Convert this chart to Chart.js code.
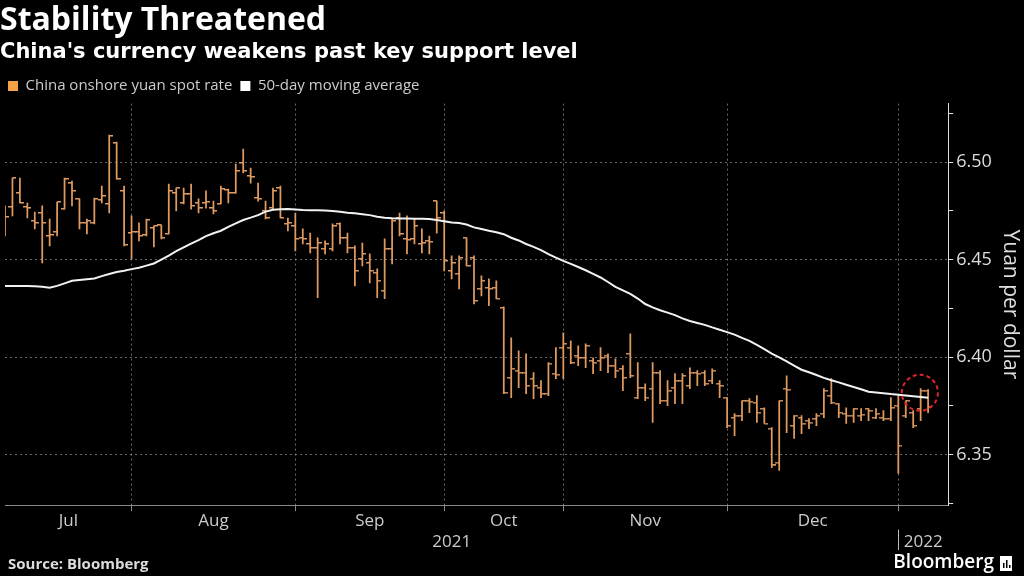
<!DOCTYPE html>
<html>
<head>
<meta charset="utf-8">
<title>Stability Threatened</title>
<script src="https://cdn.jsdelivr.net/npm/chart.js@4.4.1/dist/chart.umd.min.js"></script>
<style>
  html, body { margin: 0; padding: 0; background: #000; }
  canvas { display: block; }
</style>
</head>
<body>
<canvas id="myChart" width="1024" height="576"></canvas>
<script>
const chartTitle = 'Stability Threatened'
const chartSubtitle = "China's currency weakens past key support level"
const spotLabel = 'China onshore yuan spot rate'
const maLabel = '50-day moving average'
const yTitle = 'Yuan per dollar'

// trading days, CNY onshore
const dates = [
  '2021-07-07','2021-07-08','2021-07-09','2021-07-12','2021-07-13','2021-07-14','2021-07-15','2021-07-16','2021-07-19',
  '2021-07-20','2021-07-21','2021-07-22','2021-07-23','2021-07-26','2021-07-27','2021-07-28','2021-07-29','2021-07-30',
  '2021-08-02','2021-08-03','2021-08-04','2021-08-05','2021-08-06','2021-08-09','2021-08-10','2021-08-11','2021-08-12',
  '2021-08-13','2021-08-16','2021-08-17','2021-08-18','2021-08-19','2021-08-20','2021-08-23','2021-08-24','2021-08-25',
  '2021-08-26','2021-08-27','2021-08-30','2021-08-31',
  '2021-09-01','2021-09-02','2021-09-03','2021-09-06','2021-09-07','2021-09-08','2021-09-09','2021-09-10','2021-09-13',
  '2021-09-14','2021-09-15','2021-09-16','2021-09-17','2021-09-22','2021-09-23','2021-09-24','2021-09-27','2021-09-28',
  '2021-09-29','2021-09-30',
  '2021-10-08','2021-10-11','2021-10-12','2021-10-13','2021-10-14','2021-10-15','2021-10-18','2021-10-19','2021-10-20',
  '2021-10-21','2021-10-22','2021-10-25','2021-10-26','2021-10-27','2021-10-28','2021-10-29',
  '2021-11-01','2021-11-02','2021-11-03','2021-11-04','2021-11-05','2021-11-08','2021-11-09','2021-11-10','2021-11-11',
  '2021-11-12','2021-11-15','2021-11-16','2021-11-17','2021-11-18','2021-11-19','2021-11-22','2021-11-23','2021-11-24',
  '2021-11-25','2021-11-26','2021-11-29','2021-11-30',
  '2021-12-01','2021-12-02','2021-12-03','2021-12-06','2021-12-07','2021-12-08','2021-12-09','2021-12-10','2021-12-13',
  '2021-12-14','2021-12-15','2021-12-16','2021-12-17','2021-12-20','2021-12-21','2021-12-22','2021-12-23','2021-12-24',
  '2021-12-27','2021-12-28','2021-12-29','2021-12-30','2021-12-31',
  '2022-01-04','2022-01-05','2022-01-06','2022-01-07'
]

const opens = [
  6.4764, 6.4770, 6.4841, 6.4770, 6.4698, 6.4739, 6.4621, 6.4642, 6.4759, 6.4892,
  6.4811, 6.4688, 6.4688, 6.4805, 6.4785, 6.5097, 6.4852, 6.4636, 6.4642, 6.4626,
  6.4662, 6.4677, 6.4631, 6.4841, 6.4790, 6.4836, 6.4790, 6.4790, 6.4764, 6.4785,
  6.4857, 6.4841, 6.4995, 6.4928, 6.4816, 6.4749, 6.4764, 6.4867, 6.4683, 6.4672,
  6.4611, 6.4580, 6.4560, 6.4555, 6.4555, 6.4683, 6.4611, 6.4560, 6.4503, 6.4483,
  6.4432, 6.4340, 6.4555, 6.4713, 6.4606, 6.4606, 6.4580, 6.4596, 6.4800, 6.4739,
  6.4442, 6.4427, 6.4611, 6.4508, 6.4350, 6.4355, 6.4355, 6.4252, 6.3894, 6.3930,
  6.3920, 6.3889, 6.3843, 6.3812, 6.3915, 6.4048, 6.4048, 6.4007, 6.3996, 6.3981,
  6.3981, 6.4007, 6.3956, 6.3940, 6.4017, 6.3792, 6.3843, 6.3838, 6.3920, 6.3776,
  6.3843, 6.3879, 6.3853, 6.3920, 6.3920, 6.3879, 6.3863, 6.3792, 6.3689, 6.3700,
  6.3776, 6.3766, 6.3735, 6.3633, 6.3459, 6.3838, 6.3648, 6.3689, 6.3674, 6.3684,
  6.3710, 6.3802, 6.3761, 6.3710, 6.3700, 6.3700, 6.3735, 6.3689, 6.3689, 6.3684,
  6.3751, 6.3700, 6.3715, 6.3735, 6.3828
]
const highs = [
  6.4775, 6.4918, 6.4918, 6.4790, 6.4744, 6.4775, 6.4708, 6.4795, 6.4918, 6.4903,
  6.4811, 6.4708, 6.4816, 6.4877, 6.5138, 6.5102, 6.4877, 6.4724, 6.4688, 6.4708,
  6.4672, 6.4677, 6.4887, 6.4867, 6.4867, 6.4887, 6.4811, 6.4852, 6.4800, 6.4877,
  6.4862, 6.4990, 6.5067, 6.4969, 6.4892, 6.4800, 6.4867, 6.4877, 6.4713, 6.4739,
  6.4657, 6.4636, 6.4611, 6.4596, 6.4683, 6.4688, 6.4636, 6.4570, 6.4585, 6.4529,
  6.4452, 6.4606, 6.4708, 6.4739, 6.4724, 6.4708, 6.4657, 6.4621, 6.4800, 6.4749,
  6.4519, 6.4519, 6.4611, 6.4519, 6.4416, 6.4401, 6.4391, 6.4258, 6.4099, 6.4032,
  6.4017, 6.3920, 6.3879, 6.3971, 6.4048, 6.4124, 6.4083, 6.4058, 6.4068, 6.3996,
  6.4048, 6.4017, 6.3991, 6.3956, 6.4119, 6.3971, 6.3863, 6.3971, 6.3930, 6.3879,
  6.3915, 6.3915, 6.3945, 6.3930, 6.3930, 6.3940, 6.3879, 6.3792, 6.3710, 6.3776,
  6.3787, 6.3802, 6.3740, 6.3638, 6.3776, 6.3904, 6.3700, 6.3700, 6.3684, 6.3710,
  6.3838, 6.3889, 6.3761, 6.3740, 6.3735, 6.3735, 6.3735, 6.3735, 6.3725, 6.3792,
  6.3802, 6.3776, 6.3725, 6.3838, 6.3833
]
const lows = [
  6.4621, 6.4724, 6.4790, 6.4713, 6.4657, 6.4483, 6.4570, 6.4621, 6.4759, 6.4775,
  6.4657, 6.4631, 6.4683, 6.4790, 6.4739, 6.4913, 6.4570, 6.4503, 6.4596, 6.4621,
  6.4565, 6.4606, 6.4631, 6.4749, 6.4785, 6.4759, 6.4739, 6.4764, 6.4734, 6.4785,
  6.4790, 6.4841, 6.4944, 6.4892, 6.4800, 6.4708, 6.4759, 6.4713, 6.4647, 6.4544,
  6.4580, 6.4534, 6.4304, 6.4529, 6.4544, 6.4580, 6.4534, 6.4365, 6.4468, 6.4380,
  6.4304, 6.4299, 6.4478, 6.4621, 6.4529, 6.4580, 6.4534, 6.4529, 6.4636, 6.4442,
  6.4401, 6.4350, 6.4468, 6.4273, 6.4314, 6.4263, 6.4299, 6.3812, 6.3792, 6.3843,
  6.3812, 6.3787, 6.3792, 6.3802, 6.3889, 6.3889, 6.3966, 6.3956, 6.3945, 6.3915,
  6.3930, 6.3920, 6.3894, 6.3828, 6.3894, 6.3787, 6.3776, 6.3664, 6.3761, 6.3751,
  6.3761, 6.3761, 6.3838, 6.3853, 6.3853, 6.3863, 6.3792, 6.3638, 6.3597, 6.3674,
  6.3715, 6.3664, 6.3659, 6.3433, 6.3418, 6.3612, 6.3582, 6.3607, 6.3633, 6.3648,
  6.3689, 6.3761, 6.3689, 6.3659, 6.3664, 6.3674, 6.3674, 6.3684, 6.3674, 6.3674,
  6.3403, 6.3689, 6.3638, 6.3674, 6.3715
]
const closes = [
  6.4718, 6.4918, 6.4790, 6.4764, 6.4688, 6.4688, 6.4626, 6.4795, 6.4913, 6.4852,
  6.4688, 6.4698, 6.4811, 6.4826, 6.5133, 6.4913, 6.4575, 6.4642, 6.4621, 6.4703,
  6.4672, 6.4611, 6.4852, 6.4867, 6.4836, 6.4775, 6.4764, 6.4795, 6.4749, 6.4862,
  6.4841, 6.4954, 6.4954, 6.4923, 6.4811, 6.4713, 6.4852, 6.4713, 6.4688, 6.4606,
  6.4606, 6.4560, 6.4585, 6.4580, 6.4672, 6.4611, 6.4560, 6.4442, 6.4529, 6.4442,
  6.4391, 6.4555, 6.4698, 6.4631, 6.4601, 6.4672, 6.4585, 6.4591, 6.4713, 6.4493,
  6.4483, 6.4508, 6.4468, 6.4288, 6.4391, 6.4350, 6.4299, 6.3817, 6.3940, 6.3920,
  6.3853, 6.3853, 6.3812, 6.3966, 6.3910, 6.4068, 6.3971, 6.3996, 6.4058, 6.3971,
  6.3996, 6.3956, 6.3930, 6.3894, 6.3904, 6.3843, 6.3792, 6.3920, 6.3776, 6.3828,
  6.3879, 6.3904, 6.3920, 6.3915, 6.3863, 6.3930, 6.3853, 6.3648, 6.3700, 6.3776,
  6.3771, 6.3715, 6.3659, 6.3444, 6.3776, 6.3833, 6.3700, 6.3659, 6.3664, 6.3700,
  6.3828, 6.3766, 6.3715, 6.3700, 6.3735, 6.3705, 6.3725, 6.3710, 6.3684, 6.3740,
  6.3546, 6.3776, 6.3648, 6.3828, 6.3746
]
const movingAvg = [
  6.4365, 6.4365, 6.4365, 6.4365, 6.4363, 6.4360, 6.4356, 6.4365, 6.4378, 6.4391,
  6.4395, 6.4399, 6.4403, 6.4415, 6.4426, 6.4436, 6.4443, 6.4451, 6.4458, 6.4469,
  6.4480, 6.4500, 6.4520, 6.4543, 6.4562, 6.4582, 6.4600, 6.4620, 6.4635, 6.4648,
  6.4668, 6.4686, 6.4703, 6.4715, 6.4728, 6.4746, 6.4755, 6.4758, 6.4759, 6.4757,
  6.4754, 6.4753, 6.4753, 6.4752, 6.4749, 6.4745, 6.4740, 6.4737, 6.4733, 6.4728,
  6.4720, 6.4714, 6.4712, 6.4711, 6.4710, 6.4709, 6.4709, 6.4708, 6.4703, 6.4697,
  6.4690, 6.4687, 6.4680, 6.4665, 6.4657, 6.4648, 6.4640, 6.4630, 6.4612, 6.4598,
  6.4580, 6.4565, 6.4548, 6.4528, 6.4510, 6.4493, 6.4478, 6.4462, 6.4445, 6.4427,
  6.4408, 6.4385, 6.4360, 6.4342, 6.4324, 6.4300, 6.4272, 6.4255, 6.4240, 6.4228,
  6.4215, 6.4198, 6.4185, 6.4175, 6.4165, 6.4152, 6.4140, 6.4128, 6.4115, 6.4098,
  6.4083, 6.4062, 6.4040, 6.4018, 6.3998, 6.3978, 6.3956, 6.3935, 6.3922, 6.3908,
  6.3893, 6.3881, 6.3870, 6.3858, 6.3846, 6.3835, 6.3822, 6.3818, 6.3814, 6.3810,
  6.3807, 6.3803, 6.3799, 6.3795, 6.3791
]

const monthNames = ['Jul', 'Aug', 'Sep', 'Oct', 'Nov', 'Dec']
const yTicks = [6.325, 6.35, 6.375, 6.40, 6.425, 6.45, 6.475, 6.50, 6.525]
const yMin = 6.324
const yMax = 6.530
const xMin = 0
const xMax = 126.7
// red ring around the latest close vs. the moving average
const highlight = { x: 122.9, y: 6.3817 }

const barColor = '#df9a60'
const legendOrange = '#f5a145'
const gridColor = 'rgba(150, 150, 150, 0.7)'
const axisGray = '#8a8a8a'

// month / year boundaries from the trading days
const monthEnds = []
dates.forEach((d, i) => {
  if (i < dates.length - 1 && dates[i + 1].slice(0, 7) !== d.slice(0, 7)) monthEnds.push(i)
})
const monthMids = monthNames.map((m, j) => ((j === 0 ? xMin : monthEnds[j - 1]) + monthEnds[j]) / 2)
const yearBreak = dates.findIndex(d => d.startsWith('2022')) - 1
const yearTicks = [(xMin + yearBreak) / 2, (yearBreak + xMax) / 2]
const yearLabels = ['2021', '2022']

const isMajor = v => Math.abs(v * 20 - Math.round(v * 20)) < 1e-6

function tickImage(side) {
  const c = document.createElement('canvas')
  c.width = 8
  c.height = 2
  const g = c.getContext('2d')
  g.fillStyle = barColor
  g.fillRect(side === 'left' ? 0 : 4, 0, 4, 1.5)
  return c
}

const extras = {
  id: 'extras',
  afterDatasetsDraw(chart) {
    const { ctx, scales } = chart
    const cx = scales.x.getPixelForValue(highlight.x)
    const cy = scales.y.getPixelForValue(highlight.y)
    ctx.save()
    ctx.strokeStyle = '#e0232c'
    ctx.lineWidth = 2
    ctx.setLineDash([4, 3])
    ctx.beginPath()
    ctx.arc(cx, cy, 18, 0, Math.PI * 2)
    ctx.stroke()
    ctx.restore()
  },
  afterDraw(chart) {
    const { ctx, scales } = chart
    ctx.save()
    // year separator
    const bx = Math.round(scales.x.getPixelForValue(yearBreak)) + 0.5
    ctx.strokeStyle = '#bbbbbb'
    ctx.lineWidth = 1
    ctx.beginPath()
    ctx.moveTo(bx, scales.xYear.top - 2)
    ctx.lineTo(bx, scales.xYear.bottom - 2)
    ctx.stroke()

    ctx.textBaseline = 'middle'
    ctx.fillStyle = '#dddddd'
    ctx.font = "bold 15px 'Open Sans', sans-serif"
    ctx.fillText('Source: Bloomberg', 8, 565)
    ctx.fillStyle = '#ffffff'
    ctx.font = "600 19px 'Open Sans', sans-serif"
    ctx.textAlign = 'right'
    ctx.fillText('Bloomberg', 994, 563)
    ctx.fillRect(1000, 556, 12, 15)
    ctx.fillStyle = '#000'
    ctx.fillRect(1003, 563, 1.5, 5)
    ctx.fillRect(1006, 560, 1.5, 8)
    ctx.fillRect(1009, 565, 1.5, 3)
    ctx.restore()
  }
}

Chart.defaults.font.family = "'Open Sans', sans-serif"
Chart.defaults.color = '#cccccc'

const ctx = document.getElementById('myChart')

new Chart(ctx, {
  type: 'bar',
  data: {
    datasets: [
      {
        label: spotLabel,
        type: 'bar',
        data: dates.map((d, i) => ({ x: i, y: [lows[i], highs[i]] })),
        backgroundColor: barColor,
        barThickness: 1.1,
        order: 2
      },
      {
        label: 'open',
        type: 'line',
        data: dates.map((d, i) => ({ x: i, y: opens[i] })),
        showLine: false,
        pointStyle: tickImage('left'),
        pointRadius: 2,
        order: 1
      },
      {
        label: 'close',
        type: 'line',
        data: dates.map((d, i) => ({ x: i, y: closes[i] })),
        showLine: false,
        pointStyle: tickImage('right'),
        pointRadius: 2,
        order: 1
      },
      {
        label: maLabel,
        type: 'line',
        data: dates.map((d, i) => ({ x: i, y: movingAvg[i] })),
        borderColor: '#f2f2f2',
        backgroundColor: '#ffffff',
        borderWidth: 2,
        pointRadius: 0,
        tension: 0,
        order: 0
      }
    ]
  },
  options: {
    responsive: false,
    animation: false,
    events: [],
    layout: { padding: { left: 0, right: 0, top: 0, bottom: 24 } },
    plugins: {
      title: {
        display: true, text: chartTitle, align: 'start', color: '#ffffff',
        font: { size: 32, weight: 'bold' }, padding: { top: 2, bottom: 0 }
      },
      subtitle: {
        display: true, text: chartSubtitle, align: 'start', color: '#ffffff',
        font: { family: "'DejaVu Sans', sans-serif", size: 21, weight: 'bold' }, padding: { top: 0, bottom: 5 }
      },
      legend: {
        align: 'start',
        labels: {
          boxWidth: 10, boxHeight: 10, padding: 8, color: '#cccccc', font: { size: 15 },
          generateLabels: () => [
            { text: spotLabel, fillStyle: legendOrange, strokeStyle: legendOrange, fontColor: '#cccccc', lineWidth: 0, hidden: false, datasetIndex: 0 },
            { text: maLabel, fillStyle: '#ffffff', strokeStyle: '#ffffff', fontColor: '#cccccc', lineWidth: 0, hidden: false, datasetIndex: 3 }
          ]
        }
      },
      tooltip: { enabled: false }
    },
    scales: {
      x: {
        type: 'linear', min: xMin, max: xMax, offset: false, weight: 0,
        afterBuildTicks: s => { s.ticks = monthEnds.map(v => ({ value: v })) },
        ticks: { display: false, autoSkip: false },
        grid: { offset: false, color: gridColor, tickColor: axisGray, tickLength: 6 },
        border: { display: true, color: axisGray, dash: [2, 3] }
      },
      xMonth: {
        type: 'linear', position: 'bottom', min: xMin, max: xMax, offset: false, weight: 1,
        afterBuildTicks: s => { s.ticks = monthMids.map(v => ({ value: v })) },
        ticks: {
          autoSkip: false, maxRotation: 0, padding: 0, color: '#cccccc', font: { size: 17 },
          callback: (v, i) => monthNames[i]
        },
        grid: { display: false, drawTicks: false },
        border: { display: false }
      },
      xYear: {
        type: 'linear', position: 'bottom', min: xMin, max: xMax, offset: false, weight: 2,
        afterBuildTicks: s => { s.ticks = yearTicks.map(v => ({ value: v })) },
        ticks: {
          autoSkip: false, maxRotation: 0, padding: 0, color: '#cccccc', font: { size: 17 },
          callback: (v, i) => yearLabels[i]
        },
        grid: { display: false, drawTicks: false },
        border: { display: false }
      },
      y: {
        type: 'linear', position: 'right', min: yMin, max: yMax,
        afterBuildTicks: s => { s.ticks = yTicks.map(v => ({ value: v })) },
        ticks: {
          autoSkip: false, padding: 3, color: '#dddddd', font: { size: 18 },
          callback: v => (isMajor(v) ? v.toFixed(2) : '')
        },
        grid: {
          color: c => (c.tick && isMajor(c.tick.value) ? gridColor : 'rgba(0,0,0,0)'),
          tickColor: '#dddddd', tickLength: 5
        },
        border: { display: true, color: '#dddddd', dash: [2, 3] },
        title: { display: true, text: yTitle, color: '#dddddd', font: { size: 21 }, padding: { top: 1, bottom: 3 } }
      }
    }
  },
  plugins: [extras]
})
</script>
</body>
</html>
